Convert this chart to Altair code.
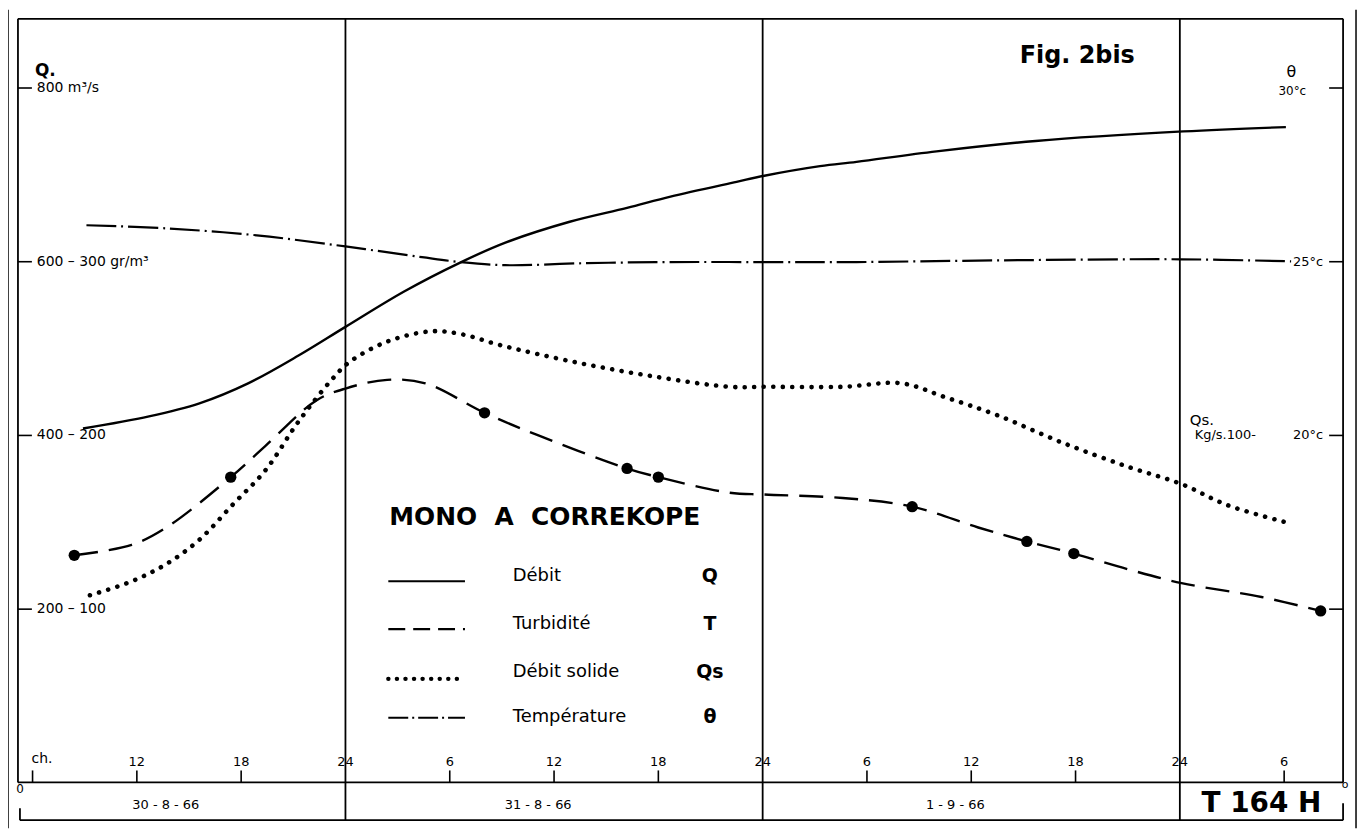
import altair as alt
import pandas as pd

# ---------------- data ----------------
# Débit Q (m3/s)
q_hours = [8.9, 12.7, 15.6, 18.4, 21.3, 24.0, 27.4, 30.6, 33.2, 36.9, 40.2, 42.7,
           46.5, 48.1, 51.3, 53.4, 58.0, 63.7, 72.2, 78.1]
q_values = [408, 422, 437, 460, 492, 525, 566, 599, 622, 646, 662, 675,
            692, 699, 710, 715, 727, 739, 750, 755]

# Turbidité T (gr/m3)
t_hours = [8.4, 11.7, 13.7, 17.4, 19.4, 22.3, 24.0, 26.4, 28.6, 32.0, 35.1, 40.2,
           42.0, 46.1, 48.1, 52.6, 56.6, 60.4, 63.2, 65.9, 69.0, 72.1, 76.7, 80.1]
t_values = [131, 137, 147, 176, 194, 220, 227, 232, 230, 213, 200, 181,
            176, 167, 166, 164, 159, 147, 139, 132, 123, 115, 107, 99]
t_sample_hours = [8.4, 17.4, 32.0, 40.2, 42.0, 56.6, 63.2, 65.9, 80.1]
t_sample_values = [131, 176, 213, 181, 176, 159, 139, 132, 99]

# Débit solide Qs (kg/s)
qs_hours = [9.3, 11.7, 13.7, 15.6, 17.5, 19.4, 21.3, 23.2, 24.2, 26.4, 29.0, 30.8,
            32.9, 37.3, 41.7, 46.1, 48.1, 52.6, 56.0, 58.5, 61.4, 65.2, 69.0, 72.1,
            74.7, 78.1]
qs_values = [54, 58, 63, 70, 80, 90, 104, 116, 121, 127, 130, 129,
             126, 121, 117, 114, 114, 114, 115, 111, 106, 98, 91, 86, 80, 75]

# Température θ (°C)
th_hours = [9.1, 13.7, 18.9, 24.0, 28.4, 30.6, 33.2, 37.9, 42.7, 48.1, 53.4, 61.8, 72.1, 78.4]
th_values = [26.05, 25.96, 25.76, 25.44, 25.13, 24.99, 24.90, 24.96, 24.99, 24.99,
             24.99, 25.04, 25.07, 25.01]

# axes / labels
hour_ticks = [12, 18, 30, 36, 42, 54, 60, 66, 78, 6]
hour_tick_labels = ["12", "18", "6", "12", "18", "6", "12", "18", "6", "ch."]
day_bounds = [24, 48, 72]
day_bound_labels = ["24", "24", "24"]
dates = ["30 - 8 - 66", "31 - 8 - 66", "1 - 9 - 66"]
sheet_label = "T 164 H"
left_ticks = [800, 600, 400, 200]
left_labels = ["800 m³/s", "600 – 300 gr/m³", "400 – 200", "200 – 100"]
temp_ticks = [30, 25, 20, 15]
temp_labels = ["30°c", "25°c", "20°c", ""]
qs_axis_value = [100]
qs_axis_label = ["Kg/s.100-"]
legend_title = "MONO\u00a0\u00a0A\u00a0\u00a0CORREKOPE"
legend_names = ["Débit", "Turbidité", "Débit solide", "Température"]
legend_symbols = ["Q", "T", "Qs", "θ"]

# ---------------- chart ----------------
FONT = "DejaVu Sans"
W, H = 1331, 805
X_DOMAIN = [5.16, 81.39]
Y_DOMAIN = [-43.0, 879.7]
CURVE = "catmull-rom"


def xs():
    return alt.Scale(domain=X_DOMAIN, nice=False, zero=False)


def ys():
    return alt.Scale(domain=Y_DOMAIN, nice=False, zero=False)


def X(f="hour"):
    return alt.X(f"{f}:Q", scale=xs(), axis=None)


def Y(f="pos"):
    return alt.Y(f"{f}:Q", scale=ys(), axis=None)


one = pd.DataFrame({"k": [0]})


def seg(x1, y1, x2, y2, w=1.8):
    return alt.Chart(one).mark_rule(color="black", strokeWidth=w).encode(
        x=alt.value(x1), x2=alt.value(x2), y=alt.value(y1), y2=alt.value(y2))


def txt(text, x, y, size=12, align="left", weight="normal", baseline="middle"):
    return alt.Chart(one).mark_text(
        font=FONT, fontSize=size, align=align, baseline=baseline,
        fontWeight=weight, color="black").encode(
        x=alt.value(x), y=alt.value(y), text=alt.value(text))


def series(hours, values, expr, **mk):
    df = pd.DataFrame({"hour": hours, "value": values})
    return alt.Chart(df).transform_calculate(pos=expr).mark_line(
        color="black", interpolate=CURVE, **mk).encode(x=X(), y=Y())


layers = []

# frame
layers += [
    seg(0, 0, W, 0),
    seg(0, 0, 0, 767),
    seg(W, 0, W, 767),
    seg(0, 767, W, 767),
    seg(2, 805, W, 805),
    seg(2, 793, 2, 805),
    seg(W, 788, W, 805),
    seg(-10, -9, -10, 813, 1.5),
    seg(1344, -9, 1344, 813, 1.5),
]

# day separators
days_df = pd.DataFrame({"hour": day_bounds, "label": day_bound_labels})
layers.append(alt.Chart(days_df).mark_rule(color="black", strokeWidth=1.8).encode(
    x=X(), y=alt.value(0), y2=alt.value(H)))
layers.append(alt.Chart(days_df).mark_text(
    font=FONT, fontSize=13, baseline="middle", color="black").encode(
    x=X(), y=alt.value(747), text="label:N"))

# hour ticks
ticks_df = pd.DataFrame({"hour": hour_ticks, "label": hour_tick_labels})
layers.append(alt.Chart(ticks_df).mark_rule(color="black", strokeWidth=1.6).encode(
    x=X(), y=alt.value(755), y2=alt.value(767)))
layers.append(alt.Chart(ticks_df).transform_filter("datum.label != 'ch.'").mark_text(
    font=FONT, fontSize=13, baseline="middle", color="black").encode(
    x=X(), y=alt.value(747), text="label:N"))
layers.append(alt.Chart(ticks_df).transform_filter("datum.label == 'ch.'").mark_text(
    font=FONT, fontSize=14, baseline="middle", align="left", dx=-1, color="black").encode(
    x=X(), y=alt.value(744), text="label:N"))

# date band
date_df = pd.DataFrame({"label": dates,
                        "start": [X_DOMAIN[0]] + day_bounds[:2],
                        "end": day_bounds})
layers.append(alt.Chart(date_df).transform_calculate(
    hour="(datum.start + datum.end) / 2").mark_text(
    font=FONT, fontSize=13, baseline="middle", dx=-16, color="black").encode(
    x=X(), y=alt.value(790), text="label:N"))
sheet_df = pd.DataFrame({"label": [sheet_label], "start": [day_bounds[-1]],
                         "end": [X_DOMAIN[1]]})
layers.append(alt.Chart(sheet_df).transform_calculate(
    hour="(datum.start + datum.end) / 2").mark_text(
    font=FONT, fontSize=28, fontWeight="bold", baseline="middle", color="black").encode(
    x=X(), y=alt.value(789), text="label:N"))
layers.append(txt("0", 2, 774, size=12, align="center"))
layers.append(txt("o", 1333, 770, size=11, align="center"))

# left axis (Q, turbidity)
left_df = pd.DataFrame({"pos": left_ticks, "label": left_labels})
layers.append(alt.Chart(left_df).mark_rule(color="black", strokeWidth=1.6).encode(
    x=alt.value(0), x2=alt.value(14), y=Y()))
layers.append(alt.Chart(left_df).mark_text(
    font=FONT, fontSize=14, align="left", baseline="middle", color="black").encode(
    x=alt.value(19), y=Y(), text="label:N"))
layers.append(txt("Q.", 17, 52, size=17, weight="bold"))

# right axis (temperature, Qs)
temp_df = pd.DataFrame({"temp": temp_ticks, "label": temp_labels})
temp_pos = "(datum.temp - 10) * 40"
layers.append(alt.Chart(temp_df).transform_calculate(pos=temp_pos).mark_rule(
    color="black", strokeWidth=1.6).encode(x=alt.value(W - 14), x2=alt.value(W), y=Y()))
layers.append(alt.Chart(temp_df).transform_filter("datum.temp < 30 && datum.label != ''")
              .transform_calculate(pos=temp_pos).mark_text(
    font=FONT, fontSize=13, align="right", baseline="middle", color="black").encode(
    x=alt.value(1311), y=Y(), text="label:N"))
layers.append(alt.Chart(temp_df).transform_filter("datum.temp == 30")
              .transform_calculate(pos=temp_pos).mark_text(
    font=FONT, fontSize=12, align="center", baseline="middle", dy=3, color="black").encode(
    x=alt.value(1280), y=Y(), text="label:N"))
layers.append(txt("θ", 1279, 53, size=16, align="center"))
qs_df = pd.DataFrame({"qs": qs_axis_value, "label": qs_axis_label})
layers.append(alt.Chart(qs_df).transform_calculate(pos="datum.qs * 4").mark_text(
    font=FONT, fontSize=13, align="left", baseline="middle", color="black").encode(
    x=alt.value(1182), y=Y(), text="label:N"))
layers.append(txt("Qs.", 1177, 403, size=15))
layers.append(txt("Fig. 2bis", 1064, 44, size=24, align="center", weight="bold",
                  baseline="alphabetic"))

# data series
layers.append(series(q_hours, q_values, "datum.value", strokeWidth=2.4))
layers.append(series(t_hours, t_values, "datum.value * 2", strokeWidth=2.4,
                     strokeDash=[24, 11]))
layers.append(series(qs_hours, qs_values, "datum.value * 4", strokeWidth=4.6,
                     strokeDash=[0.1, 9.5], strokeCap="round"))
layers.append(series(th_hours, th_values, "(datum.value - 10) * 40", strokeWidth=2.2,
                     strokeDash=[30, 5, 2, 5]))
samp_df = pd.DataFrame({"hour": t_sample_hours, "value": t_sample_values})
layers.append(alt.Chart(samp_df).transform_calculate(pos="datum.value * 2").mark_circle(
    color="black", size=130, opacity=1).encode(x=X(), y=Y()))

# legend drawn inside the plot
layers.append(txt(legend_title, 373, 508, size=25, weight="bold", baseline="alphabetic"))
leg_line_y = [565, 613, 663, 702]
leg_text_y = [560, 608, 656, 701]
leg_styles = [
    dict(strokeWidth=2.2),
    dict(strokeWidth=2.2, strokeDash=[17, 8]),
    dict(strokeWidth=4.4, strokeDash=[0.1, 8.5], strokeCap="round"),
    dict(strokeWidth=2.0, strokeDash=[20, 4, 2, 4]),
]
for name, sym, ly, ty, st in zip(legend_names, legend_symbols, leg_line_y, leg_text_y, leg_styles):
    layers.append(alt.Chart(one).mark_rule(color="black", **st).encode(
        x=alt.value(372), x2=alt.value(449), y=alt.value(ly)))
    layers.append(txt(name, 497, ty, size=18))
    layers.append(txt(sym, 695, ty, size=19, align="center", weight="bold"))

chart = alt.layer(*layers).properties(
    width=W, height=H,
    padding={"left": 10, "top": 9, "right": 17, "bottom": 8},
    autosize=alt.AutoSizeParams(type="none"),
    background="white",
).configure_view(stroke=None)

chart.save("out.html", embed_options={"renderer": "svg", "actions": False})
